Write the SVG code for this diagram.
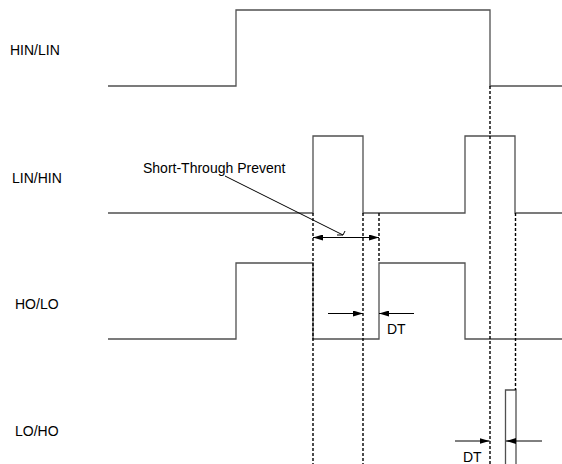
<svg xmlns="http://www.w3.org/2000/svg" width="562" height="464" viewBox="0 0 562 464">
<style>
.sig{fill:none;stroke:#505050;stroke-width:1.3}
.dash{fill:none;stroke:#000;stroke-width:1.4;stroke-dasharray:3,2}
.arr{fill:none;stroke:#000;stroke-width:1}
.lbl{font-family:"Liberation Sans",Arial,sans-serif;font-size:14px;fill:#000}
</style>
<defs>
<marker id="ah" viewBox="0 0 10 6" refX="10" refY="3" markerWidth="10" markerHeight="6" markerUnits="userSpaceOnUse" orient="auto">
<path d="M0,0 L10,3 L0,6 Z" fill="#000"/>
</marker>
</defs>
<rect width="562" height="464" fill="#fff"/>
<g id="labels">
<text class="lbl" x="10" y="55">HIN/LIN</text>
<text class="lbl" x="12" y="183">LIN/HIN</text>
<text class="lbl" x="15" y="309">HO/LO</text>
<text class="lbl" x="15" y="436">LO/HO</text>
</g>
<g id="signals">
<path id="hin" class="sig" d="M108,86 H236 V10 H490 V86 H562"/>
<path id="lin" class="sig" d="M108,213 H313 V136 H363 V213 H465 V136 H515 V213 H562"/>
<path id="ho" class="sig" d="M108,339 H236 V263 H313 V339 H379 V263 H465 V339 H562"/>
<path id="lo" class="sig" d="M505.5,464 V390 H516 V464"/>
</g>
<g id="connectors">
<line class="dash" x1="313" y1="213" x2="313" y2="464"/>
<line class="dash" x1="363" y1="213" x2="363" y2="464"/>
<line class="dash" x1="379" y1="213" x2="379" y2="263"/>
<line class="dash" x1="490" y1="86" x2="490" y2="464"/>
<line class="dash" x1="515.5" y1="213" x2="515.5" y2="390"/>
<line class="arr" x1="346" y1="237.5" x2="313" y2="237.5" marker-end="url(#ah)"/>
<line class="arr" x1="346" y1="237.5" x2="379" y2="237.5" marker-end="url(#ah)"/>
<path class="arr" d="M225,176 L343,235 M337,235 L343,235 L345,231"/>
<line class="arr" x1="328" y1="313.5" x2="363" y2="313.5" marker-end="url(#ah)"/>
<line class="arr" x1="414" y1="313.5" x2="379" y2="313.5" marker-end="url(#ah)"/>
<line class="arr" x1="455" y1="441" x2="489.5" y2="441" marker-end="url(#ah)"/>
<line class="arr" x1="542" y1="441" x2="506" y2="441" marker-end="url(#ah)"/>
</g>
<g id="annotations">
<text class="lbl" x="143" y="173">Short-Through Prevent</text>
<text class="lbl" x="387" y="334">DT</text>
<text class="lbl" x="463" y="461.5">DT</text>
</g>
</svg>
